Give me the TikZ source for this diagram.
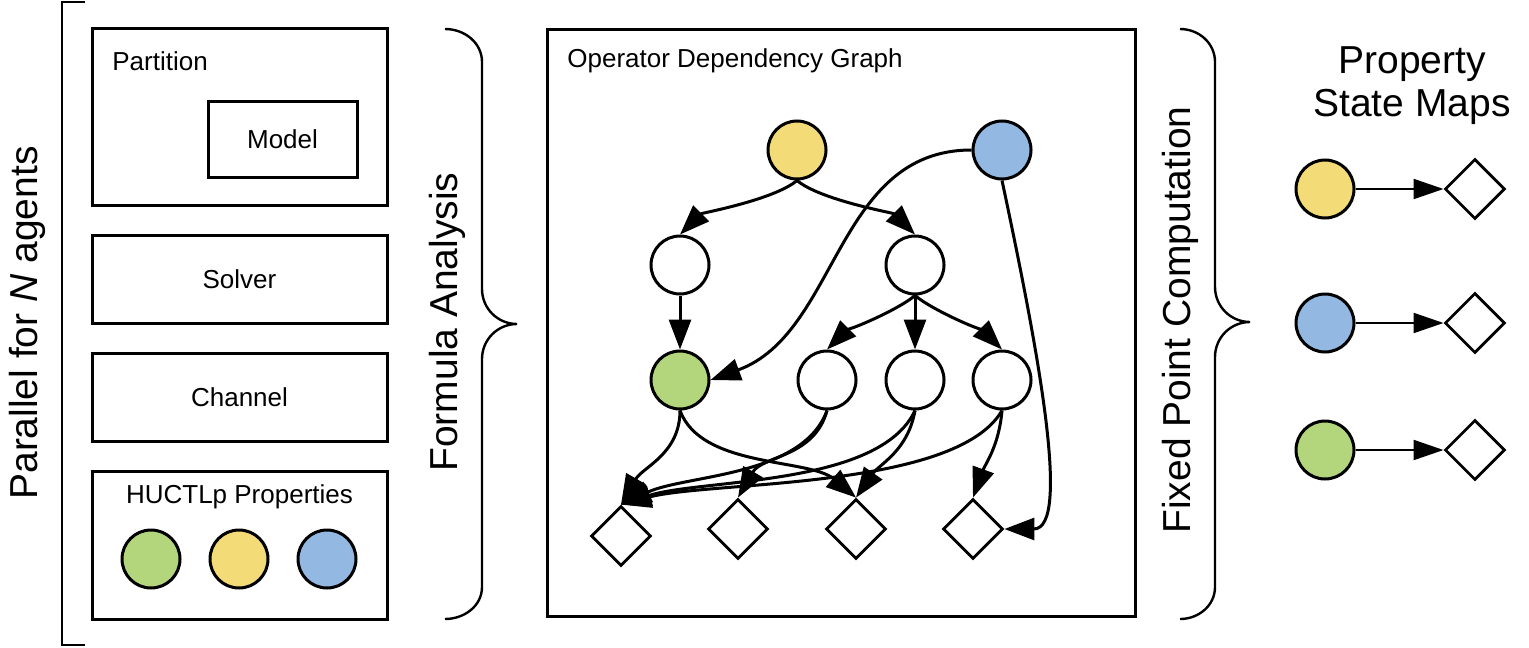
\documentclass[tikz,border=0pt]{standalone}
\usepackage{fontspec}
\setmainfont{Liberation Sans}
\usetikzlibrary{positioning,shapes.geometric,arrows.meta}
\definecolor{propyellow}{HTML}{F3DB78}
\definecolor{propblue}{HTML}{93B8E1}
\definecolor{propgreen}{HTML}{B3D67D}

\begin{document}
\begin{tikzpicture}[
  x=0.5pt, y=0.5pt,
  node distance=15pt and 44pt,
  boxstyle/.style={draw, line width=1.5pt, inner sep=0, outer sep=0, minimum width=147.5pt, font=\fontsize{13}{15.6}\selectfont},
  textstyle/.style={inner sep=0, font=\fontsize{13}{15.6}\selectfont},
  bigstyle/.style={inner sep=0, font=\fontsize{19.5}{21.5}\selectfont, align=center},
  propstyle/.style={circle, draw, line width=1.5pt, inner sep=0, minimum size=29pt},
  opstyle/.style={propstyle, fill=white},
  mapstyle/.style={diamond, draw, line width=1.4pt, inner sep=0, minimum size=30pt},
  pathstyle/.style={line width=1.5pt, -{Triangle[length=15pt,width=11pt]}},
  mappathstyle/.style={line width=1.1pt, -{Triangle[length=15pt,width=10pt]}},
  bracestyle/.style={line width=1.2pt}
]
  \useasboundingbox (0,0) rectangle (1529,-647);

  % left column
  \node[boxstyle, minimum height=88pt] (PART) at (239.5,-117)
    {};
  \node[textstyle, anchor=west] (PARTNAME) at (112,-61)
    {Partition};
  \node[boxstyle, minimum width=74.5pt, minimum height=37.5pt] (MODEL) at (282.5,-139.5)
    {Model};
  \node[boxstyle, minimum height=44pt, below=of PART] (SOLVER)
    {Solver};
  \node[boxstyle, minimum height=44pt, below=of SOLVER] (CHANNEL)
    {Channel};
  \node[boxstyle, minimum height=74pt, below=of CHANNEL] (PROPS)
    {};
  \node[textstyle] (PROPSNAME) at (239.5,-497)
    {HUCTLp Properties};
  \node[propstyle, fill=propgreen] (PG) at (151,-559)
    {};
  \node[propstyle, fill=propyellow] (PY) at (239,-559)
    {};
  \node[propstyle, fill=propblue] (PB) at (327,-559)
    {};

  \node[bigstyle, rotate=90] (AGENTS) at (27,-323)
    {Parallel for \textit{N} agents};
  \draw[bracestyle] (85,-2) -- (62,-2) -- (62,-645) -- (85,-645);

  % formula analysis
  \node[bigstyle, rotate=90] (FORMULA) at (447,-322)
    {Formula Analysis};
  \draw[bracestyle] (445,-29) to[out=0,in=90] (482,-62) -- (482,-289)
    to[out=-90,in=180] (517,-324) to[out=180,in=90] (482,-359)
    -- (482,-587) to[out=-90,in=0] (445,-619);

  % operator dependency graph
  \node[boxstyle, minimum width=294pt, minimum height=293pt] (GRAPH) at (841,-323)
    {};
  \node[textstyle, anchor=west] (GRAPHNAME) at (567,-61)
    {Operator Dependency Graph};

  \node[propstyle, fill=propyellow] (OPY) at (797,-150) {};
  \node[propstyle, fill=propblue] (OPB) at (1002,-150) {};
  \node[opstyle] (OP1) at (680,-265) {};
  \node[opstyle] (OP2) at (915,-265) {};
  \node[propstyle, fill=propgreen] (OPG) at (680,-380) {};
  \node[opstyle] (OP3) at (827,-380) {};
  \node[opstyle] (OP4) at (915,-380) {};
  \node[opstyle] (OP5) at (1002,-380) {};
  \node[mapstyle] (SM1) at (621,-536) {};
  \node[mapstyle] (SM2) at (738,-529) {};
  \node[mapstyle] (SM3) at (856,-529) {};
  \node[mapstyle] (SM4) at (973,-529) {};

  \draw[pathstyle] (OPY.south) to[out=-140,in=45,looseness=0.6] (OP1.north);
  \draw[pathstyle] (OPY.south) to[out=-40,in=135,looseness=0.6] (OP2.north);
  \draw[pathstyle] (OP1) -- (OPG);
  \draw[pathstyle] (OP2.south) to[out=-140,in=45,looseness=0.6] (OP3.north);
  \draw[pathstyle] (OP2) -- (OP4);
  \draw[pathstyle] (OP2.south) to[out=-40,in=135,looseness=0.6] (OP5.north);
  \draw[pathstyle] (OPB.west) to[out=180,in=20] (OPG.east);
  \draw[pathstyle] (OPB.south) to[out=-78,in=0,out looseness=1.2,in looseness=0.5] (SM4.east);
  \draw[pathstyle] (OPG.south) to[out=-90,in=60] (SM1.north);
  \draw[pathstyle] (OPG.south) to[out=-70,in=140,looseness=0.8] (SM3.north);
  \draw[pathstyle] (OP3.south) to[out=-110,in=25,looseness=0.8] (SM1.north);
  \draw[pathstyle] (OP3.south) to[out=-105,in=60] (SM2.north);
  \draw[pathstyle] (OP4.south) to[out=-115,in=18,looseness=0.7] (SM1.north);
  \draw[pathstyle] (OP4.south) to[out=-100,in=55] (SM3.north);
  \draw[pathstyle] (OP5.south) to[out=-120,in=15,looseness=0.6] (SM1.north);
  \draw[pathstyle] (OP5.south) to[out=-95,in=70] (SM4.north);

  % fixed point computation
  \node[bigstyle, rotate=90] (FIXED) at (1180,-320)
    {Fixed Point Computation};
  \draw[bracestyle] (1180,-29) to[out=0,in=90] (1215,-62) -- (1215,-287)
    to[out=-90,in=180] (1250,-322) to[out=180,in=90] (1215,-357)
    -- (1215,-587) to[out=-90,in=0] (1180,-619);

  % property state maps
  \node[bigstyle] (MAPSNAME) at (1412,-86)
    {Property\\State Maps};
  \node[propstyle, fill=propyellow] (R1) at (1325,-189) {};
  \node[propstyle, fill=propblue] (R2) at (1325,-323) {};
  \node[propstyle, fill=propgreen] (R3) at (1325,-450) {};
  \node[mapstyle, right=of R1] (S1) {};
  \node[mapstyle, right=of R2] (S2) {};
  \node[mapstyle, right=of R3] (S3) {};
  \draw[mappathstyle] (R1) -- (S1);
  \draw[mappathstyle] (R2) -- (S2);
  \draw[mappathstyle] (R3) -- (S3);
\end{tikzpicture}
\end{document}
